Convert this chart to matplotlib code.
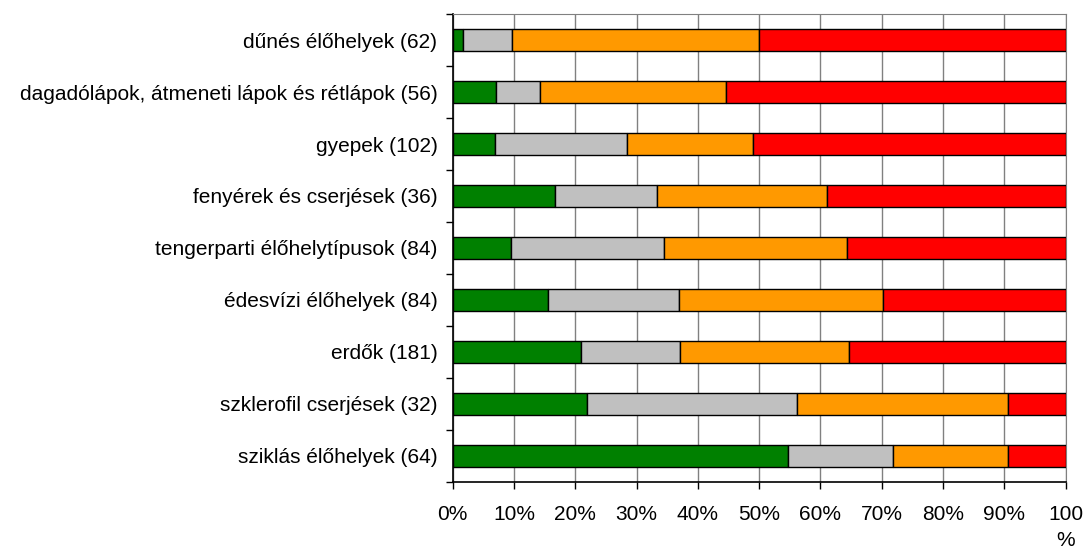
import numpy as np
import matplotlib.pyplot as plt

plt.rcParams['font.family'] = ['Liberation Sans', 'DejaVu Sans']

categories = ["dűnés élőhelyek (62)",
              "dagadólápok, átmeneti lápok és rétlápok (56)",
              "gyepek (102)",
              "fenyérek és cserjések (36)",
              "tengerparti élőhelytípusok (84)",
              "édesvízi élőhelyek (84)",
              "erdők (181)",
              "szklerofil cserjések (32)",
              "sziklás élőhelyek (64)"]

# counts per category (they add up to the totals in brackets)
green = [1, 4, 7, 6, 8, 13, 38, 7, 35]
gray = [5, 4, 22, 6, 21, 18, 29, 11, 11]
orange = [25, 17, 21, 10, 25, 28, 50, 11, 12]
red = [31, 31, 52, 14, 30, 25, 64, 3, 6]

colors = ["#008000", "#C0C0C0", "#FF9900", "#FF0000"]
xticklabels = ["0%", "10%", "20%", "30%", "40%", "50%", "60%", "70%", "80%", "90%", "100\n%"]

series = np.array([green, gray, orange, red], dtype=float)
pct = series / series.sum(axis=0) * 100

fig = plt.figure(figsize=(10.83, 5.46), dpi=100)
ax = fig.add_axes([0.418, 0.118, 0.566, 0.856])

y = np.arange(len(categories))[::-1]
left = np.zeros(len(categories))
for vals, col in zip(pct, colors):
    ax.barh(y, vals, left=left, height=0.42, color=col, edgecolor="#000000",
            linewidth=1, zorder=3)
    left += vals

ax.set_xlim(0, 100)
ax.set_ylim(-0.5, len(categories) - 0.5)
ax.set_xticks(np.arange(0, 101, 10))
ax.set_xticklabels(xticklabels, fontsize=15, linespacing=1.45, va="top")
ax.set_yticks(y)
ax.set_yticklabels(categories, fontsize=15)
ax.set_yticks(np.arange(-0.5, len(categories), 1), minor=True)
ax.tick_params(axis="y", which="major", length=0, pad=11)
ax.tick_params(axis="y", which="minor", length=5, width=1, color="#000000")
ax.tick_params(axis="x", length=5, width=1, pad=12)

ax.grid(axis="x", color="#808080", linewidth=1, zorder=0)
for s in ["top", "right"]:
    ax.spines[s].set_color("#808080")
for s in ["left", "bottom"]:
    ax.spines[s].set_color("#000000")
    ax.spines[s].set_linewidth(1.2)

fig.savefig("out.png", dpi=100)
